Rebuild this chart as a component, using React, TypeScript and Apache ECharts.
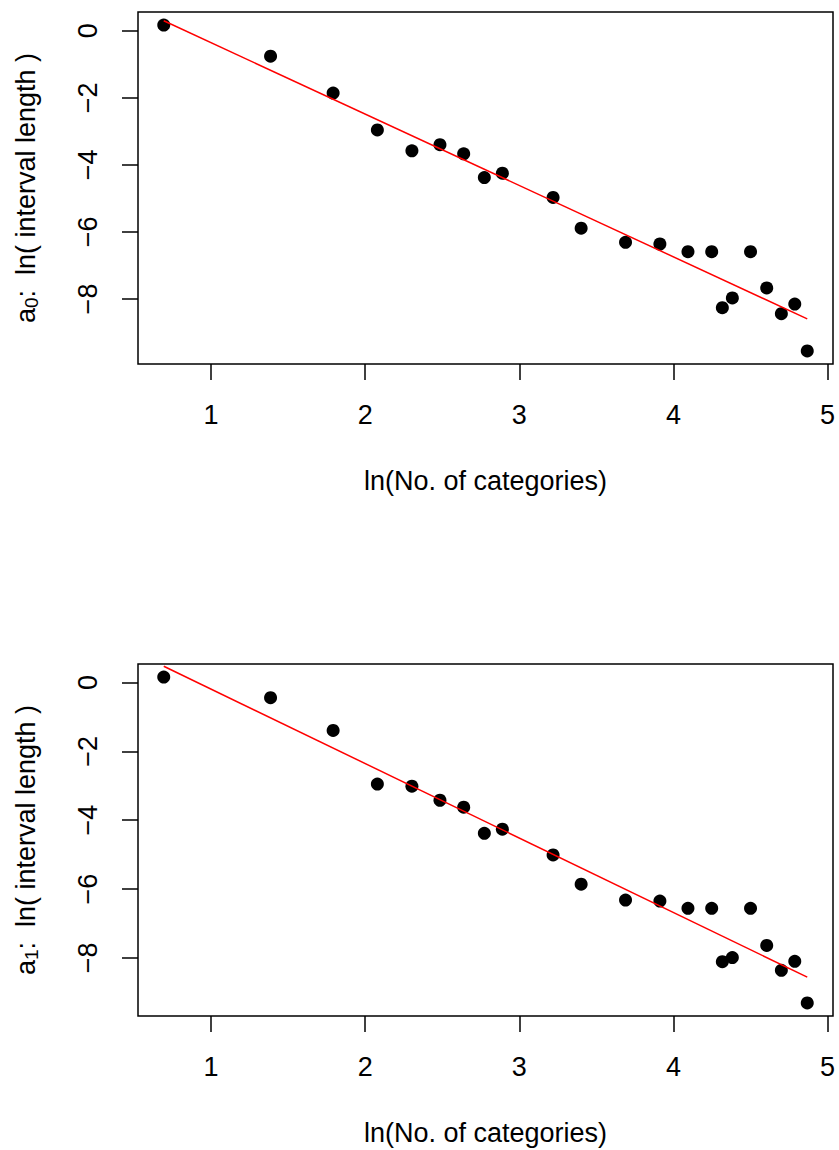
import React, { useEffect, useRef } from "react";
import * as echarts from "echarts";

// ln(number of categories)
const LN_CATEGORIES = [
  0.693, 1.386, 1.792, 2.079, 2.303, 2.485, 2.639, 2.773, 2.89, 3.219, 3.401,
  3.689, 3.912, 4.094, 4.248, 4.317, 4.382, 4.5, 4.605, 4.7, 4.787, 4.868,
];
// a0: ln(interval length)
const A0_LN_LENGTH = [
  0.17, -0.76, -1.86, -2.96, -3.58, -3.4, -3.67, -4.38, -4.25, -4.97, -5.89,
  -6.31, -6.36, -6.59, -6.59, -8.26, -7.97, -6.59, -7.67, -8.44, -8.15, -9.55,
];
// a1: ln(interval length)
const A1_LN_LENGTH = [
  0.16, -0.44, -1.39, -2.95, -3.01, -3.42, -3.62, -4.38, -4.26, -5.01, -5.86,
  -6.32, -6.35, -6.56, -6.56, -8.11, -7.99, -6.56, -7.64, -8.36, -8.1, -9.31,
];
// fitted lines: [intercept, slope]
const FIT_A0 = [1.772, -2.129];
const FIT_A1 = [1.974, -2.164];

const X_TICKS = [1, 2, 3, 4, 5];
const Y_TICKS = [0, -2, -4, -6, -8];
const X_TITLE = "ln(No. of categories)";
const Y_TITLES = [
  "{a|a}{s|0}{a|:  ln( interval length )}",
  "{a|a}{s|1}{a|:  ln( interval length )}",
];

const FONT = "'Liberation Sans', Arial, Helvetica, sans-serif";

function rRange(arr: number[]): [number, number] {
  const lo = Math.min(...arr);
  const hi = Math.max(...arr);
  const d = (hi - lo) * 0.04;
  return [lo - d, hi + d];
}

function fmt(v: number): string {
  return v < 0 ? "\u2212" + Math.abs(v) : String(v);
}

export default function App() {
  const ref = useRef<HTMLDivElement>(null);

  useEffect(() => {
    document.body.style.margin = "0";
    if (!ref.current) return;
    const chart = echarts.init(ref.current, undefined, { renderer: "svg" });

    const panels = [
      { y: A0_LN_LENGTH, fit: FIT_A0, top: 12 },
      { y: A1_LN_LENGTH, fit: FIT_A1, top: 664 },
    ];
    const [xmin, xmax] = rRange(LN_CATEGORIES);
    const xLo = Math.min(...LN_CATEGORIES);
    const xHi = Math.max(...LN_CATEGORIES);

    const grid: any[] = [];
    const xAxis: any[] = [];
    const yAxis: any[] = [];
    const series: any[] = [];

    panels.forEach((p, i) => {
      const [ymin, ymax] = rRange(p.y);
      grid.push({
        left: 138,
        top: p.top,
        width: 695,
        height: 352,
        show: true,
        borderColor: "#000",
        borderWidth: 1.5,
        backgroundColor: "transparent",
        containLabel: false,
      });
      xAxis.push({
        type: "value",
        gridIndex: i,
        position: "bottom",
        min: xmin,
        max: xmax,
        axisLine: { show: false, onZero: false },
        axisTick: {
          show: true,
          inside: false,
          length: 16,
          customValues: X_TICKS,
          lineStyle: { color: "#000", width: 1.5 },
        },
        axisLabel: {
          customValues: X_TICKS,
          margin: 37,
          fontSize: 27,
          color: "#000",
          fontFamily: FONT,
          formatter: (v: number) => fmt(v),
        },
        splitLine: { show: false },
        name: X_TITLE,
        nameLocation: "middle",
        nameGap: 103,
        nameTextStyle: { fontSize: 27, color: "#000", fontFamily: FONT },
      });
      yAxis.push({
        type: "value",
        gridIndex: i,
        position: "left",
        min: ymin,
        max: ymax,
        axisLine: { show: false, onZero: false },
        axisTick: {
          show: true,
          inside: false,
          length: 16,
          customValues: Y_TICKS,
          lineStyle: { color: "#000", width: 1.5 },
        },
        axisLabel: {
          customValues: Y_TICKS,
          rotate: 90,
          margin: 37,
          fontSize: 27,
          color: "#000",
          fontFamily: FONT,
          formatter: (v: number) => fmt(v),
        },
        splitLine: { show: false },
        name: Y_TITLES[i],
        nameLocation: "middle",
        nameRotate: 90,
        nameGap: 97,
        nameTextStyle: {
          color: "#000",
          fontFamily: FONT,
          rich: {
            a: { fontSize: 27, color: "#000", fontFamily: FONT },
            s: {
              fontSize: 19,
              color: "#000",
              fontFamily: FONT,
              padding: [12, 0, 0, 0],
            },
          },
        },
      });
      series.push({
        type: "scatter",
        xAxisIndex: i,
        yAxisIndex: i,
        symbol: "circle",
        symbolSize: 13,
        itemStyle: { color: "#000", opacity: 1 },
        data: LN_CATEGORIES.map((x, k) => [x, p.y[k]]),
      });
      series.push({
        type: "line",
        xAxisIndex: i,
        yAxisIndex: i,
        symbol: "none",
        lineStyle: { color: "#ff0000", width: 1.5 },
        data: [
          [xLo, p.fit[0] + p.fit[1] * xLo],
          [xHi, p.fit[0] + p.fit[1] * xHi],
        ],
      });
    });

    chart.setOption({
      animation: false,
      backgroundColor: "#fff",
      grid,
      xAxis,
      yAxis,
      series,
    });

    return () => chart.dispose();
  }, []);

  return <div ref={ref} style={{ width: 839, height: 1150 }} />;
}
